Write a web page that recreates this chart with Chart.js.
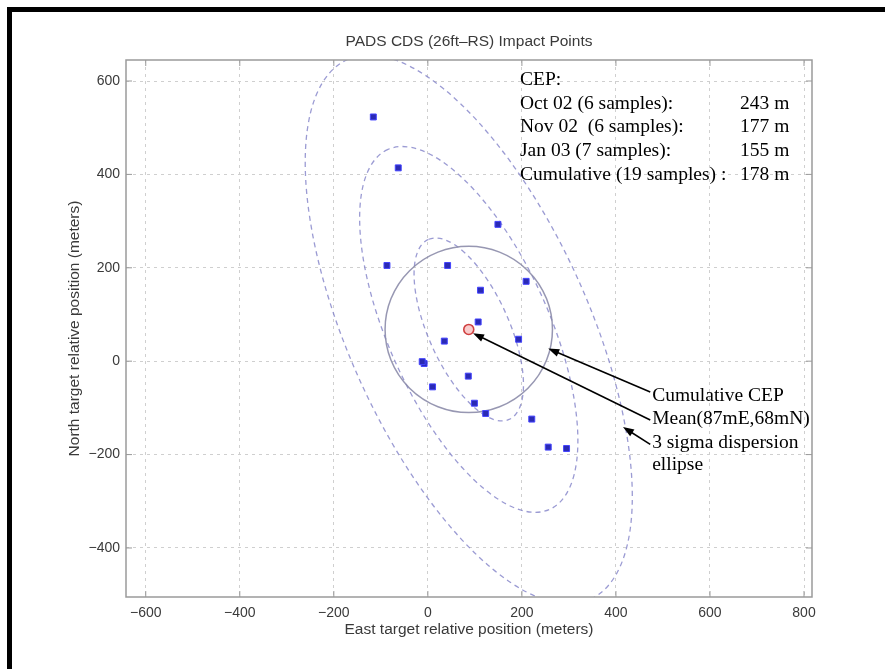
<!DOCTYPE html>
<html>
<head>
<meta charset="utf-8">
<script src="https://cdn.jsdelivr.net/npm/chart.js@4.4.1/dist/chart.umd.min.js"></script>
<style>
  html, body { margin: 0; padding: 0; background: #fff; }
  #wrap { position: relative; width: 885px; height: 669px; }
</style>
</head>
<body>
<div id="wrap"><canvas id="impact-chart"></canvas></div>
<script>
// impact points, metres relative to target
const eastPos  = [-116, -63, 149, -87, 42, 209, 112, 107, 35, 193, -8, -12, 86, 10, 99, 123, 221, 256, 295];
const northPos = [523, 414, 293, 205, 205, 171, 152, 84, 43, 47, -5, -1, -32, -55, -90, -112, -124, -184, -187];
const meanEast  = [87];
const meanNorth = [68];

// 3/2/1 sigma dispersion ellipses + cumulative CEP circle (centre, semi axes, tilt deg from East)
const ellEast  = [87, 87, 87, 87];
const ellNorth = [68, 68, 68, 68];
const ellMajor = [633, 422, 211, 178];
const ellMinor = [256, 171, 86, 178];
const ellTilt  = [114, 114, 114, 0];

const xTicks = [-600, -400, -200, 0, 200, 400, 600, 800];
const yTicks = [-400, -200, 0, 200, 400, 600];

const cepLabels = ['Oct 02 (6 samples):', 'Nov 02  (6 samples):', 'Jan 03 (7 samples):', 'Cumulative (19 samples) :'];
const cepValues = [243, 177, 155, 178];

const SANS = '"Liberation Sans", Arial, sans-serif';
const SERIF = '"Liberation Serif", "Times New Roman", serif';
const minus = v => String(v).replace('-', '\u2212');

function arrow(ctx, x0, y0, x1, y1) {
  const ang = Math.atan2(y1 - y0, x1 - x0);
  const len = 11, hw = 4;
  ctx.beginPath();
  ctx.moveTo(x0, y0);
  ctx.lineTo(x1 - Math.cos(ang) * len * 0.8, y1 - Math.sin(ang) * len * 0.8);
  ctx.stroke();
  ctx.beginPath();
  ctx.moveTo(x1, y1);
  ctx.lineTo(x1 - Math.cos(ang) * len - Math.sin(ang) * hw, y1 - Math.sin(ang) * len + Math.cos(ang) * hw);
  ctx.lineTo(x1 - Math.cos(ang) * len + Math.sin(ang) * hw, y1 - Math.sin(ang) * len - Math.cos(ang) * hw);
  ctx.closePath();
  ctx.fill();
}

const overlay = {
  id: 'overlay',
  beforeDraw(chart) {
    const { ctx } = chart;
    ctx.save();
    ctx.fillStyle = '#000';
    ctx.fillRect(7, 7, 878, 5);   // page frame
    ctx.fillRect(7, 7, 5, 662);
    ctx.restore();
  },
  beforeDatasetsDraw(chart) {
    const { ctx, chartArea: a, scales: { x, y } } = chart;
    ctx.save();
    ctx.beginPath();
    ctx.rect(a.left, a.top, a.right - a.left, a.bottom - a.top);
    ctx.clip();
    ellEast.forEach((cx, i) => {
      const px = x.getPixelForValue(cx), py = y.getPixelForValue(ellNorth[i]);
      const sx = x.getPixelForValue(cx + 1) - px;
      const sy = y.getPixelForValue(ellNorth[i] + 1) - py;
      ctx.save();
      ctx.translate(px, py);
      ctx.scale(sx, sy);
      ctx.rotate(ellTilt[i] * Math.PI / 180);
      ctx.beginPath();
      ctx.ellipse(0, 0, ellMajor[i], ellMinor[i], 0, 0, Math.PI * 2);
      ctx.restore();
      const solid = i === ellEast.length - 1;
      ctx.setLineDash(solid ? [] : [5, 4]);
      ctx.lineWidth = solid ? 1.5 : 1.3;
      ctx.strokeStyle = solid ? 'rgba(140,140,170,0.9)' : 'rgba(130,130,200,0.8)';
      ctx.stroke();
    });
    ctx.restore();
  },
  afterDatasetsDraw(chart) {
    const { ctx, chartArea: a, scales: { x, y } } = chart;
    ctx.save();
    // axes box + inward ticks
    ctx.strokeStyle = '#9a9a9a';
    ctx.lineWidth = 1.5;
    ctx.strokeRect(a.left, a.top, a.right - a.left, a.bottom - a.top);
    ctx.lineWidth = 1;
    ctx.beginPath();
    xTicks.forEach(v => {
      const p = x.getPixelForValue(v);
      ctx.moveTo(p, a.bottom); ctx.lineTo(p, a.bottom - 6);
      ctx.moveTo(p, a.top); ctx.lineTo(p, a.top + 6);
    });
    yTicks.forEach(v => {
      const p = y.getPixelForValue(v);
      ctx.moveTo(a.left, p); ctx.lineTo(a.left + 6, p);
      ctx.moveTo(a.right, p); ctx.lineTo(a.right - 6, p);
    });
    ctx.stroke();

    // title and axis titles
    ctx.fillStyle = '#3a3a3a';
    ctx.font = '15.5px ' + SANS;
    ctx.textAlign = 'center';
    ctx.textBaseline = 'middle';
    const midX = (a.left + a.right) / 2;
    ctx.fillText('PADS CDS (26ft\u2013RS) Impact Points', midX, 42);
    ctx.fillText('East target relative position (meters)', midX, 630);
    ctx.save();
    ctx.translate(75, (a.top + a.bottom) / 2);
    ctx.rotate(-Math.PI / 2);
    ctx.fillText('North target relative position (meters)', 0, 0);
    ctx.restore();

    // CEP table
    ctx.fillStyle = '#000';
    ctx.font = '19.5px ' + SERIF;
    ctx.textAlign = 'left';
    const tx = x.getPixelForValue(196), vx = x.getPixelForValue(664);
    let ty = y.getPixelForValue(602);
    ctx.fillText('CEP:', tx, ty);
    cepLabels.forEach((lab, i) => {
      ty += 23.6;
      ctx.fillText(lab, tx, ty);
      ctx.fillText(cepValues[i] + ' m', vx, ty);
    });

    // callouts
    const lx = x.getPixelForValue(477);
    const notes = [['Cumulative CEP', -75], ['Mean(87mE,68mN)', -124], ['3 sigma dispersion', -176], ['ellipse', -221]];
    notes.forEach(([t, v]) => ctx.fillText(t, lx, y.getPixelForValue(v)));
    ctx.strokeStyle = '#000';
    ctx.lineWidth = 1.6;
    arrow(ctx, x.getPixelForValue(473), y.getPixelForValue(-66), x.getPixelForValue(256), y.getPixelForValue(27));
    arrow(ctx, x.getPixelForValue(473), y.getPixelForValue(-126), x.getPixelForValue(96), y.getPixelForValue(60));
    arrow(ctx, x.getPixelForValue(473), y.getPixelForValue(-178), x.getPixelForValue(415), y.getPixelForValue(-141));
    ctx.restore();
  }
};

new Chart(document.getElementById('impact-chart'), {
  type: 'scatter',
  data: {
    datasets: [{
      label: 'Impact points',
      data: eastPos.map((e, i) => ({ x: e, y: northPos[i] })),
      pointStyle: 'rect',
      pointRadius: 4.2,
      backgroundColor: '#2a2ab4',
      borderColor: '#4444ff',
      borderWidth: 1
    }, {
      label: 'Mean',
      data: meanEast.map((e, i) => ({ x: e, y: meanNorth[i] })),
      pointStyle: 'circle',
      pointRadius: 5,
      backgroundColor: 'rgba(245,170,170,0.6)',
      borderColor: '#d04040',
      borderWidth: 1.6
    }]
  },
  options: {
    responsive: true,
    maintainAspectRatio: false,
    animation: false,
    layout: { padding: { left: 0, top: 60, right: 73, bottom: 0 } },
    plugins: { legend: { display: false }, tooltip: { enabled: false } },
    scales: {
      x: {
        type: 'linear', min: -642, max: 817,
        afterBuildTicks: s => { s.ticks = xTicks.map(v => ({ value: v })); },
        afterFit: s => { s.height = 72; },
        border: { display: false, dash: [3, 4] },
        grid: { color: '#cfcfcf', drawTicks: false },
        ticks: { padding: 8, color: '#3a3a3a', font: { family: SANS, size: 14 }, callback: minus, maxRotation: 0 }
      },
      y: {
        type: 'linear', min: -505, max: 645,
        afterBuildTicks: s => { s.ticks = yTicks.map(v => ({ value: v })); },
        afterFit: s => { s.width = 126; },
        border: { display: false, dash: [3, 4] },
        grid: { color: '#cfcfcf', drawTicks: false },
        ticks: { padding: 6, color: '#3a3a3a', font: { family: SANS, size: 14 }, callback: minus }
      }
    }
  },
  plugins: [overlay]
});
</script>
</body>
</html>
